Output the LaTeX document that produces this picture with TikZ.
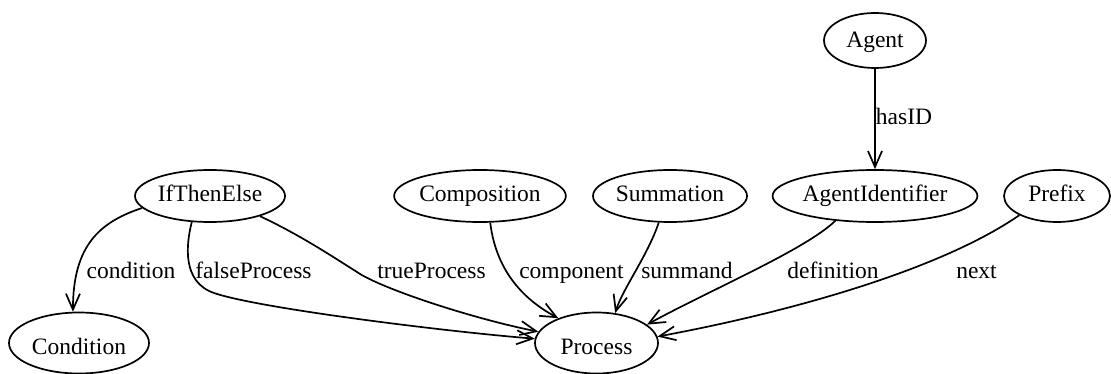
\documentclass[tikz,border=0pt]{standalone}
\usepackage{fontspec}
\setmainfont{Liberation Serif}
\usetikzlibrary{arrows.meta,shapes.geometric}
\begin{document}
\begin{tikzpicture}[x=1pt,y=-1pt,
  every node/.style={font=\fontsize{23.5}{27}\selectfont},
  concept/.style={ellipse,draw,line width=1.7pt,inner sep=0pt},
  agentrow/.style={concept,minimum height=55pt,text height=16pt,text depth=1pt},
  toprow/.style={concept,minimum height=52pt,text height=14pt,text depth=2pt},
  bottomrow/.style={concept,minimum height=61pt,text height=22pt,text depth=0pt},
  rel/.style={line width=1.7pt,-{Straight Barb[length=16pt,width=14pt]}},
  lbl/.style={inner sep=0pt,anchor=base}]
\useasboundingbox (0,0) rectangle (1111,374);

% concepts
\node[agentrow,minimum width=102pt] (A)  at (875,40.5) {Agent};
\node[toprow,minimum width=150pt]   (I)  at (210,196)  {IfThenElse};
\node[toprow,minimum width=168pt]   (C)  at (480,196)  {Composition};
\node[toprow,minimum width=154pt]   (S)  at (670,196)  {Summation};
\node[toprow,minimum width=196pt]   (AI) at (875,196)  {AgentIdentifier};
\node[toprow,minimum width=106pt]   (Pr) at (1057,196) {Prefix};
\node[bottomrow,minimum width=140pt] (Co) at (79,343)   {Condition};
\node[bottomrow,minimum width=123pt] (P)  at (596.5,343) {Process};

% relations
\draw[rel] (A.south) -- (AI.north);
\draw[rel] (I.-170) .. controls (100,222) and (73,245) .. (Co.101);
\draw[rel] (I.-125) .. controls (186,245) and (182,282) .. (214,293)
                    .. controls (259,308.5) and (450,332) .. (P.176);
\draw[rel] (I.-22) .. controls (300,235) and (330,255) .. (357,272)
                   .. controls (380,288) and (470,318) .. (P.169);
\draw[rel] (C.-69) .. controls (495,262) and (515,295) .. (P.147);
\draw[rel] (S.-113) .. controls (648,255) and (622,290) .. (P.58);
\draw[rel] (AI.-148) .. controls (805,250) and (710,290) .. (P.20);
\draw[rel] (Pr.-153) .. controls (940,270) and (790,312) .. (P.6);

% relation names
\node[lbl] (lhas)  at (904,125)   {hasID};
\node[lbl] (lcond) at (131,278)   {condition};
\node[lbl] (lfals) at (253.5,278) {falseProcess};
\node[lbl] (ltrue) at (431.5,278) {trueProcess};
\node[lbl] (lcomp) at (571.5,278) {component};
\node[lbl] (lsumm) at (687,278)   {summand};
\node[lbl] (ldef)  at (833,278)   {definition};
\node[lbl] (lnext) at (976.5,278) {next};
\end{tikzpicture}
\end{document}
